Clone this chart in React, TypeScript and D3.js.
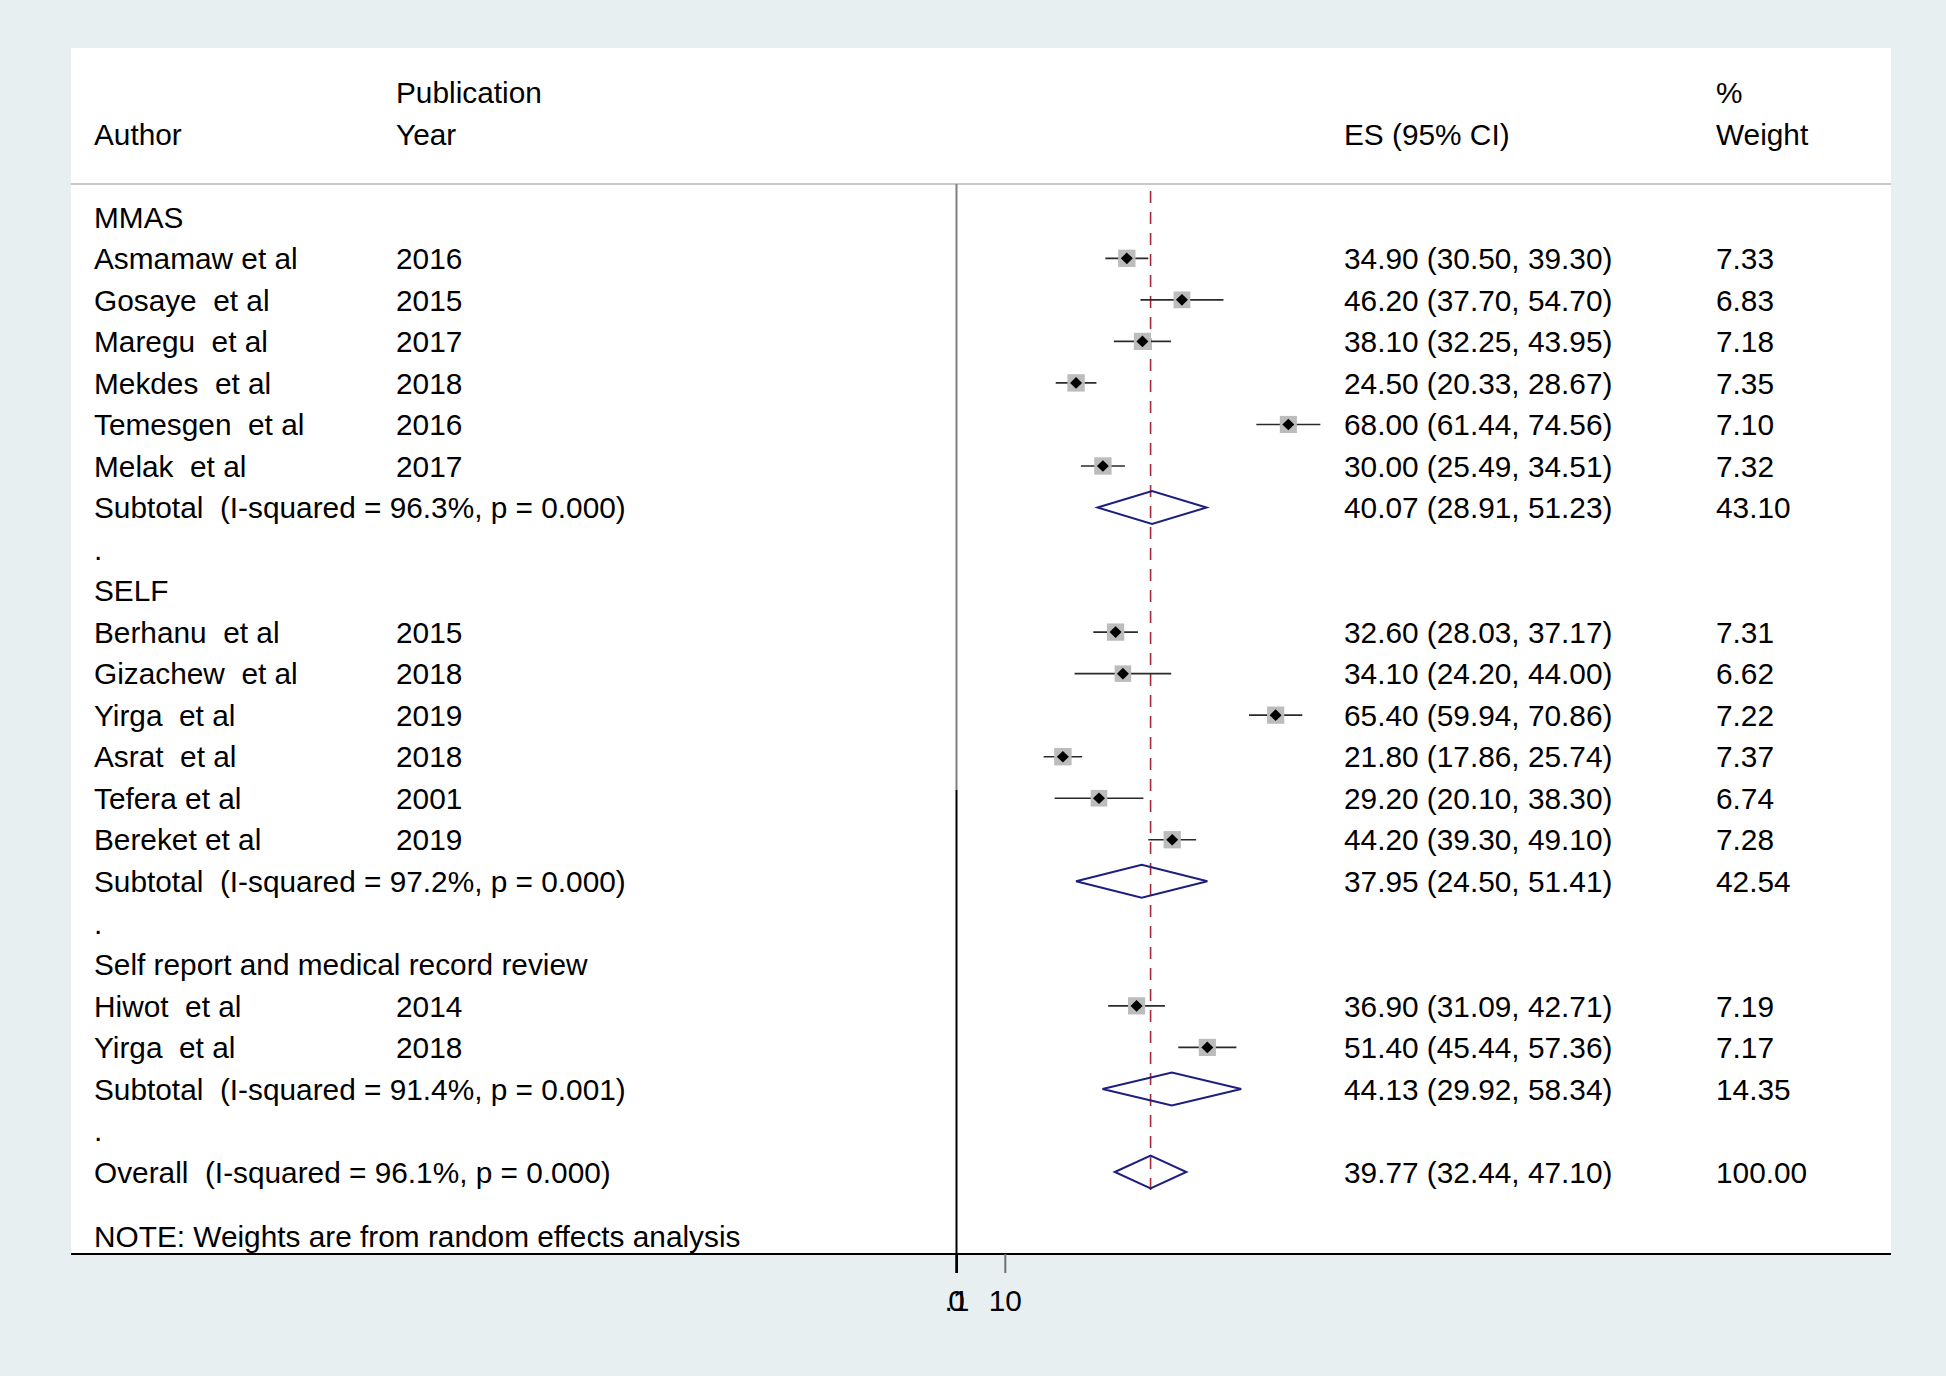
import { useEffect } from "react";
import * as d3 from "d3";

// rows in plot order: kind = group | study | subtotal | dot | overall
const ROW_KIND = [
  "group", "study", "study", "study", "study", "study", "study", "subtotal", "dot",
  "group", "study", "study", "study", "study", "study", "study", "subtotal", "dot",
  "group", "study", "study", "subtotal", "dot", "overall",
];
const ROW_LABEL = [
  "MMAS", "Asmamaw et al", "Gosaye  et al", "Maregu  et al", "Mekdes  et al", "Temesgen  et al", "Melak  et al",
  "Subtotal  (I-squared = 96.3%, p = 0.000)", ".",
  "SELF", "Berhanu  et al", "Gizachew  et al", "Yirga  et al", "Asrat  et al", "Tefera et al", "Bereket et al",
  "Subtotal  (I-squared = 97.2%, p = 0.000)", ".",
  "Self report and medical record review", "Hiwot  et al", "Yirga  et al",
  "Subtotal  (I-squared = 91.4%, p = 0.001)", ".",
  "Overall  (I-squared = 96.1%, p = 0.000)",
];
const ROW_YEAR = [
  "", "2016", "2015", "2017", "2018", "2016", "2017", "", "",
  "", "2015", "2018", "2019", "2018", "2001", "2019", "", "",
  "", "2014", "2018", "", "", "",
];
const ES = [
  null, 34.9, 46.2, 38.1, 24.5, 68.0, 30.0, 40.07, null,
  null, 32.6, 34.1, 65.4, 21.8, 29.2, 44.2, 37.95, null,
  null, 36.9, 51.4, 44.13, null, 39.77,
];
const LO = [
  null, 30.5, 37.7, 32.25, 20.33, 61.44, 25.49, 28.91, null,
  null, 28.03, 24.2, 59.94, 17.86, 20.1, 39.3, 24.5, null,
  null, 31.09, 45.44, 29.92, null, 32.44,
];
const HI = [
  null, 39.3, 54.7, 43.95, 28.67, 74.56, 34.51, 51.23, null,
  null, 37.17, 44.0, 70.86, 25.74, 38.3, 49.1, 51.41, null,
  null, 42.71, 57.36, 58.34, null, 47.1,
];
const WEIGHT = [
  null, 7.33, 6.83, 7.18, 7.35, 7.1, 7.32, 43.1, null,
  null, 7.31, 6.62, 7.22, 7.37, 6.74, 7.28, 42.54, null,
  null, 7.19, 7.17, 14.35, null, 100.0,
];
const X_TICKS = [0, 0.1, 10];
const X_TICK_LABELS = ["0", ".1", "10"];
const OVERALL_ES = 39.77;

const W = 1946;
const H = 1376;
const FS = 29.8;
const FONT = "'Liberation Sans', Arial, Helvetica, sans-serif";

export default function App() {
  useEffect(() => {
    document.body.style.margin = "0";
  }, []);

  const x = d3.scaleLinear().domain([0, 10]).range([956.5, 1005.3]);
  const y = d3.scaleLinear().domain([0, 23]).range([216.8, 1172]);
  const side = d3.scaleSqrt().domain([0, 7.37]).range([0, 17.4]);

  const panel = { left: 71, right: 1891, top: 48, bottom: 1254 };
  const headY = 184;
  const colAuthor = 94;
  const colYear = 396;
  const colES = 1344;
  const colW = 1716;
  const base = (cy: number) => cy + FS * 0.36;
  const fmt = d3.format(".2f");

  const diamondPath = (cx: number, cy: number, hw: number, hh: number) =>
    `M${cx - hw},${cy}L${cx},${cy - hh}L${cx + hw},${cy}L${cx},${cy + hh}Z`;

  return (
    <svg width={W} height={H} style={{ display: "block", position: "absolute", left: 0, top: 0 }} fontFamily={FONT}>
      <rect x={0} y={0} width={W} height={H} fill="#e8eff1" />
      <rect x={panel.left} y={panel.top} width={panel.right - panel.left} height={panel.bottom - panel.top} fill="#ffffff" />

      {/* header */}
      <g fontSize={FS} fill="#000">
        <text x={colAuthor} y={base(134.5)}>Author</text>
        <text x={colYear} y={base(92.5)}>Publication</text>
        <text x={colYear} y={base(134.5)}>Year</text>
        <text x={colES} y={base(134.5)}>ES (95% CI)</text>
        <text x={colW} y={base(92.5)}>%</text>
        <text x={colW} y={base(134.5)}>Weight</text>
      </g>
      <line x1={panel.left} x2={panel.right} y1={headY} y2={headY} stroke="#c8c8c8" strokeWidth={2} />

      {/* zero line */}
      <line x1={x(0)} x2={x(0)} y1={headY} y2={790} stroke="#808080" strokeWidth={2} />
      <line x1={x(0)} x2={x(0)} y1={790} y2={1273} stroke="#000" strokeWidth={2} />

      {/* overall effect line */}
      <line x1={x(OVERALL_ES)} x2={x(OVERALL_ES)} y1={191} y2={1192} stroke="#a3283a" strokeWidth={1.6} strokeDasharray="12 9" />

      {/* rows */}
      {ROW_KIND.map((kind, i) => {
        const cy = y(i);
        const es = ES[i];
        const lo = LO[i];
        const hi = HI[i];
        const w = WEIGHT[i];
        return (
          <g key={i}>
            <text x={colAuthor} y={base(cy)} fontSize={FS} style={{ whiteSpace: "pre" }}>{ROW_LABEL[i]}</text>
            {ROW_YEAR[i] && <text x={colYear} y={base(cy)} fontSize={FS}>{ROW_YEAR[i]}</text>}
            {es !== null && lo !== null && hi !== null && (
              <text x={colES} y={base(cy)} fontSize={FS}>{`${fmt(es)} (${fmt(lo)}, ${fmt(hi)})`}</text>
            )}
            {w !== null && <text x={colW} y={base(cy)} fontSize={FS}>{fmt(w)}</text>}
            {kind === "study" && es !== null && lo !== null && hi !== null && w !== null && (
              <g>
                <line x1={x(lo)} x2={x(hi)} y1={cy} y2={cy} stroke="#2a2a2a" strokeWidth={1.6} />
                <rect x={x(es) - side(w) / 2} y={cy - side(w) / 2} width={side(w)} height={side(w)} fill="#bcbcbc" />
                <path d={diamondPath(x(es), cy, 6, 5.8)} fill="#000" />
              </g>
            )}
            {(kind === "subtotal" || kind === "overall") && es !== null && lo !== null && hi !== null && (
              <path d={`M${x(lo)},${cy}L${x(es)},${cy - 16.5}L${x(hi)},${cy}L${x(es)},${cy + 16.5}Z`} fill="none" stroke="#1c1f80" strokeWidth={2} />
            )}
          </g>
        );
      })}

      <text x={colAuthor} y={base(1236)} fontSize={FS}>NOTE: Weights are from random effects analysis</text>

      {/* x axis */}
      <line x1={panel.left} x2={panel.right} y1={panel.bottom} y2={panel.bottom} stroke="#000" strokeWidth={2} />
      {X_TICKS.map((t, i) => (
        <g key={t}>
          <line x1={x(t)} x2={x(t)} y1={panel.bottom} y2={1273} stroke={t === 10 ? "#707070" : "#000"} strokeWidth={2} />
          <text x={x(t)} y={base(1300)} fontSize={FS} textAnchor="middle">{X_TICK_LABELS[i]}</text>
        </g>
      ))}
    </svg>
  );
}
